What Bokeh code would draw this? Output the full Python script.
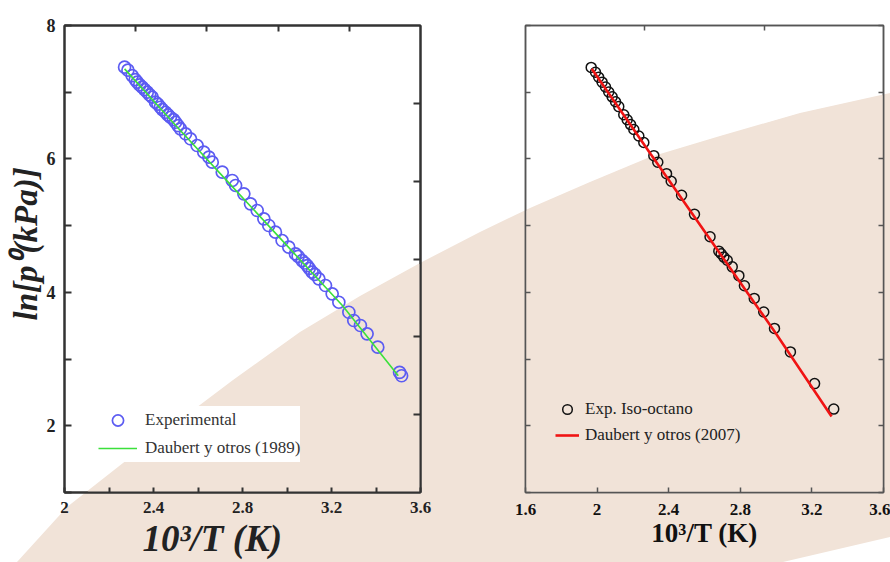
from urllib.parse import quote
from bokeh.plotting import figure
from bokeh.models import (Range1d, LinearAxis, FixedTicker, Legend, LegendItem, Title,
                          NumeralTickFormatter, Row, PolyAnnotation)
from bokeh.embed import file_html
from bokeh.resources import INLINE

# ---------------- data ----------------
exp_x = [2.270, 2.285, 2.304, 2.318, 2.327, 2.338, 2.349, 2.360, 2.372, 2.383,
         2.394, 2.409, 2.420, 2.431, 2.440, 2.454, 2.465, 2.476, 2.490, 2.499,
         2.510, 2.521, 2.544, 2.566, 2.596, 2.626, 2.649, 2.664, 2.709, 2.754,
         2.769, 2.806, 2.836, 2.866, 2.896, 2.918, 2.948, 2.978, 3.008, 3.038,
         3.050, 3.068, 3.080, 3.091, 3.100, 3.113, 3.125, 3.143, 3.173, 3.203,
         3.233, 3.278, 3.300, 3.330, 3.360, 3.408, 3.506, 3.515]
exp_y = [7.375, 7.33, 7.250, 7.19, 7.150, 7.11, 7.075, 7.04, 7.000, 6.96,
         6.925, 6.850, 6.82, 6.775, 6.74, 6.700, 6.66, 6.625, 6.59, 6.550,
         6.50, 6.451, 6.377, 6.302, 6.201, 6.101, 6.026, 5.951, 5.801, 5.677,
         5.602, 5.477, 5.327, 5.227, 5.102, 5.002, 4.902, 4.777, 4.677, 4.577,
         4.54, 4.477, 4.44, 4.402, 4.36, 4.302, 4.27, 4.203, 4.103, 3.978,
         3.852, 3.702, 3.578, 3.503, 3.378, 3.178, 2.80, 2.75]

d89_x = [2.27, 2.50, 2.75, 3.00, 3.25, 3.50]
d89_y = [7.35, 6.50, 5.60, 4.70, 3.80, 2.75]

iso_x = [1.967, 1.991, 2.009, 2.028, 2.047, 2.065, 2.084, 2.103, 2.121, 2.149,
         2.168, 2.187, 2.205, 2.233, 2.261, 2.317, 2.339, 2.388, 2.414, 2.472,
         2.544, 2.631, 2.680, 2.693, 2.708, 2.727, 2.755, 2.792, 2.823, 2.878,
         2.931, 2.991, 3.080, 3.215, 3.322]
iso_y = [7.372, 7.299, 7.225, 7.151, 7.078, 7.004, 6.931, 6.857, 6.784, 6.662,
         6.588, 6.515, 6.441, 6.343, 6.246, 6.049, 5.951, 5.779, 5.666, 5.456,
         5.169, 4.834, 4.618, 4.578, 4.529, 4.481, 4.382, 4.250, 4.099, 3.909,
         3.706, 3.460, 3.107, 2.632, 2.250]

d07_x = [1.97, 2.30, 2.70, 3.00, 3.31]
d07_y = [7.35, 6.07, 4.53, 3.38, 2.14]

left_xticks = [2.0, 2.4, 2.8, 3.2, 3.6]
left_xminor = [2.2, 2.6, 3.0, 3.4]
left_yticks = [2, 4, 6, 8]
left_yminor = [1, 3, 5, 7]
left_top_ticks = [0.2, 0.4, 0.6, 0.8]
left_right_ticks = [1, 2, 3, 4, 5]

right_xticks = [1.6, 2.0, 2.4, 2.8, 3.2, 3.6]
right_yticks = [1, 2, 3, 4, 5, 6, 7, 8]
right_top_ticks = [1, 2]

FONT = "Liberation Serif"
BEIGE = "#f1e3d8"

# decorative page swoosh outline (page pixels, not data)
SW_X = [17, 67, 123, 180, 233, 300, 360, 420, 480, 530, 590, 650, 720, 800, 890, 890, 783]
SW_Y = [562, 507, 463, 420, 380, 332, 296, 263, 232, 208, 182, 157, 136, 113, 93, 537, 562]


def style_axis(ax, color, lw, tick_len, size=None, label_color="#222", standoff=9):
    ax.axis_line_color = color
    ax.axis_line_width = lw
    ax.major_tick_line_color = color
    ax.major_tick_line_width = lw
    ax.minor_tick_line_color = color
    ax.minor_tick_line_width = lw
    ax.major_tick_in = tick_len
    ax.major_tick_out = 0
    ax.minor_tick_in = tick_len
    ax.minor_tick_out = 0
    ax.major_label_text_font = FONT
    ax.major_label_text_font_style = "bold"
    ax.major_label_text_color = label_color
    if size is None:
        ax.major_label_overrides = {t: "" for t in ax.ticker.ticks}
        ax.major_label_text_font_size = "1px"
        ax.major_label_standoff = 0
    else:
        ax.major_label_text_font_size = size
        ax.major_label_standoff = standoff
        ax.formatter = NumeralTickFormatter(format="0.[0]")


def add_swoosh(p, x_offset):
    p.add_layout(PolyAnnotation(xs=[x - x_offset for x in SW_X], ys=SW_Y,
                                xs_units="canvas", ys_units="canvas",
                                fill_color=BEIGE, fill_alpha=1, line_color=None,
                                level="underlay"))


# ---------------- left panel ----------------
p1 = figure(width=470, height=562, x_range=Range1d(2, 3.6), y_range=Range1d(1, 8),
            x_axis_type=None, y_axis_type=None, output_backend="svg",
            toolbar_location=None, min_border_left=64, min_border_right=50,
            min_border_top=25, min_border_bottom=70,
            background_fill_color=None, background_fill_alpha=0,
            border_fill_color=None, border_fill_alpha=0,
            outline_line_color="#333", outline_line_width=2)
p1.extra_x_ranges = {"top": Range1d(0, 1)}
p1.extra_y_ranges = {"right": Range1d(0, 6)}
add_swoosh(p1, 0)

bx = LinearAxis(ticker=FixedTicker(ticks=left_xticks, minor_ticks=left_xminor))
style_axis(bx, "#333", 2, 5, "17px")
p1.add_layout(bx, "below")
ly = LinearAxis(ticker=FixedTicker(ticks=left_yticks, minor_ticks=left_yminor))
style_axis(ly, "#333", 2, 7, "18px")
p1.add_layout(ly, "left")
tx = LinearAxis(x_range_name="top", ticker=FixedTicker(ticks=left_top_ticks))
style_axis(tx, "#333", 2, 6)
p1.add_layout(tx, "above")
ry = LinearAxis(y_range_name="right", ticker=FixedTicker(ticks=left_right_ticks))
style_axis(ry, "#333", 2, 7)
p1.add_layout(ry, "right")

p1.add_layout(Title(text="10³/T (K)", align="left", offset=78, standoff=0,
                    text_font=FONT, text_font_style="bold italic",
                    text_font_size="37px", text_color="#222"), "below")
p1.add_layout(Title(text="ln[p⁰(kPa)]", align="left", offset=172, standoff=0,
                    text_font=FONT, text_font_style="bold italic",
                    text_font_size="33px", text_color="#222"), "left")

r_exp = p1.scatter(exp_x, exp_y, marker="circle", size=12, fill_color=None,
                   line_color="#5c5cf2", line_width=1.7)
r_d89 = p1.line(d89_x, d89_y, line_color="#3be03b", line_width=1.6)

leg1 = Legend(items=[LegendItem(label="Experimental", renderers=[r_exp]),
                     LegendItem(label="Daubert y otros (1989)", renderers=[r_d89])],
              location=(34, 30), margin=0, padding=3, spacing=-5,
              glyph_width=39, glyph_height=28, label_height=28, label_standoff=8,
              label_text_font=FONT, label_text_font_size="17px",
              label_text_color="#333", background_fill_color="white",
              background_fill_alpha=1, border_line_color=None)
p1.add_layout(leg1)

# ---------------- right panel ----------------
p2 = figure(width=420, height=562, x_range=Range1d(1.6, 3.6), y_range=Range1d(1, 8),
            x_axis_type=None, y_axis_type=None, output_backend="svg",
            toolbar_location=None, min_border_left=55, min_border_right=7,
            min_border_top=24, min_border_bottom=62,
            background_fill_color=None, background_fill_alpha=0,
            border_fill_color=None, border_fill_alpha=0,
            outline_line_color="#555", outline_line_width=1.5)
p2.extra_x_ranges = {"top": Range1d(0, 3)}
add_swoosh(p2, 470)

bx2 = LinearAxis(ticker=FixedTicker(ticks=right_xticks), axis_label="10³/T (K)")
style_axis(bx2, "#555", 1.5, 5, "17px", label_color="#111", standoff=11)
bx2.axis_label_text_font = FONT
bx2.axis_label_text_font_style = "bold"
bx2.axis_label_text_font_size = "27px"
bx2.axis_label_text_color = "#111"
bx2.axis_label_standoff = 0
p2.add_layout(bx2, "below")
ly2 = LinearAxis(ticker=FixedTicker(ticks=right_yticks))
style_axis(ly2, "#555", 1.5, 5)
p2.add_layout(ly2, "left")
tx2 = LinearAxis(x_range_name="top", ticker=FixedTicker(ticks=right_top_ticks))
style_axis(tx2, "#555", 1.5, 5)
p2.add_layout(tx2, "above")
ry2 = LinearAxis(ticker=FixedTicker(ticks=right_yticks))
style_axis(ry2, "#555", 1.5, 5)
p2.add_layout(ry2, "right")

r_iso = p2.scatter(iso_x, iso_y, marker="circle", size=10, fill_color=None,
                   line_color="#111", line_width=1.5)
r_d07 = p2.line(d07_x, d07_y, line_color="#f01414", line_width=2.6)

leg2 = Legend(items=[LegendItem(label="Exp. Iso-octano", renderers=[r_iso]),
                     LegendItem(label="Daubert y otros (2007)", renderers=[r_d07])],
              location=(30, 44), margin=0, padding=3, spacing=-2,
              glyph_width=24, glyph_height=26, label_height=26, label_standoff=6,
              label_text_font=FONT, label_text_font_size="17px",
              label_text_color="#222", background_fill_alpha=0,
              border_line_color=None)
p2.add_layout(leg2)

# ---------------- decorative page background (the beige swoosh) ----------------
pts = " ".join(f"{x},{y}" for x, y in zip(SW_X, SW_Y))
swoosh = ('<svg xmlns="http://www.w3.org/2000/svg" width="890" height="562" '
          f'viewBox="0 0 890 562"><polygon points="{pts}" fill="{BEIGE}"/></svg>')
bg = 'url("data:image/svg+xml;charset=utf-8,' + quote(swoosh) + '")'

layout = Row(children=[p1, p2], spacing=0,
             styles={"background-image": bg, "background-repeat": "no-repeat",
                     "background-position": "0px 0px",
                     "background-size": "890px 562px"})

open("out.html", "w").write(file_html(layout, INLINE))
